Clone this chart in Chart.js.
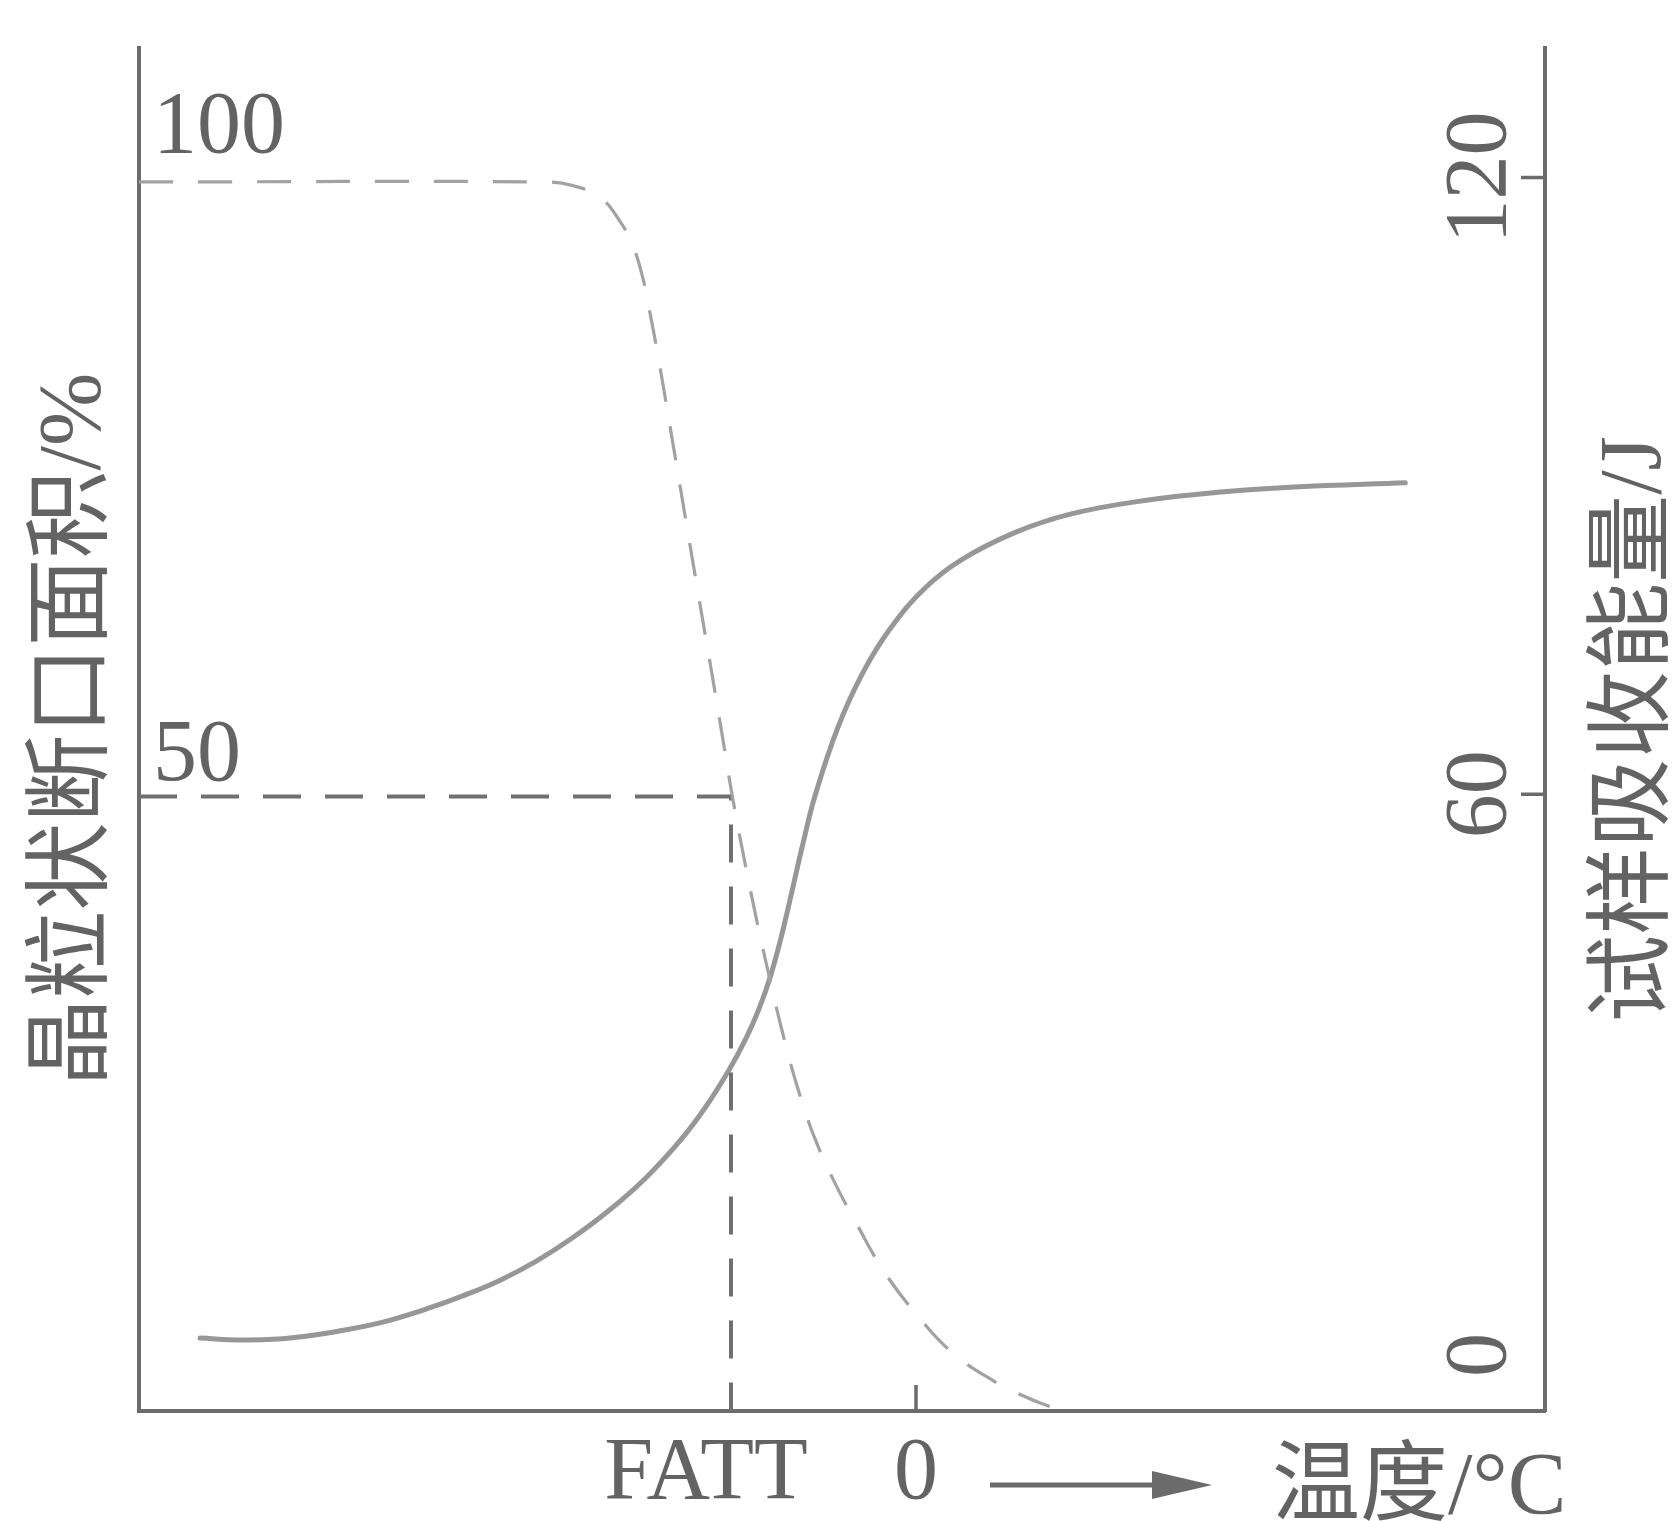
<!DOCTYPE html>
<html>
<head>
<meta charset="utf-8">
<title>FATT</title>
<script src="https://cdn.jsdelivr.net/npm/chart.js@4/dist/chart.umd.min.js"></script>
<style>
  html, body { margin: 0; padding: 0; background: #fff; }
  canvas { display: block; }
</style>
</head>
<body>
<canvas id="chart" width="1679" height="1521"></canvas>
<script>
// 晶粒状断口面积 (虚线, 左轴 %)
const fracTemp = [-84, -40.0, -37.1, -34.2, -32.0, -30.6, -29.5, -28.8, -27.9, -26.5, -25.0, -23.5, -22.0, -20.8, -19.9, -18.7, -17.3, -16.0, -14.5, -12.8, -11.0, -8.8, -6.4, -3.5, 0.0, 4.0, 8.5, 12.0, 15.0];
const fracArea = [100, 100, 99.7, 98.8, 96.8, 94.8, 92.1, 89.5, 85.9, 79.7, 73.0, 66.3, 59.7, 54.3, 50.2, 45.4, 40.2, 35.8, 31.0, 26.3, 22.3, 18.6, 15.2, 11.4, 7.9, 4.7, 2.4, 1.1, 0.2];

// 试样吸收能量 (实线, 右轴 J)
const energyTemp = [-77.4, -73.0, -69.0, -65.0, -61.0, -57.0, -53.0, -49.0, -45.0, -41.0, -37.2, -33.2, -29.3, -25.5, -22.8, -20.2, -18.3, -16.9, -15.7, -14.6, -13.5, -12.3, -10.9, -8.4, -5.7, -2.8, 0.9, 4.9, 10.8, 16.9, 24.9, 32.9, 40.9, 52.9];
const energyJ = [7.1, 6.9, 7.0, 7.4, 8.0, 8.8, 9.9, 11.2, 12.7, 14.6, 16.8, 19.5, 22.6, 26.3, 29.5, 33.2, 36.4, 39.3, 42.4, 46.0, 50.2, 54.9, 59.9, 66.6, 71.9, 76.1, 80.0, 82.8, 85.5, 87.3, 88.6, 89.4, 89.9, 90.3];

// FATT: 50% 晶粒状断口对应温度
const fattTemp = -20;
const fattArea = 50;

// 刻度
const leftTicks = [50, 100];
const rightTicks = [0, 60, 120];
const xTickValues = [fattTemp, 0];
const xTickLabels = ['FATT', '0'];

const leftTitle = '晶粒状断口面积/%';
const rightTitle = '试样吸收能量/J';
const xTitle = '温度/°C';

const axisColor = '#6b6b6b';
const textColor = '#636363';
const serif = '"Liberation Serif", "Noto Sans CJK SC", serif';

function toPoints(xs, ys) {
    return xs.map((v, i) => ({ x: v, y: ys[i] }));
}

function line(ctx, x1, y1, x2, y2) {
    ctx.beginPath();
    ctx.moveTo(x1, y1);
    ctx.lineTo(x2, y2);
    ctx.stroke();
}

// 刻度、文字和箭头
const annotate = {
    id: 'annotate',
    afterDraw(chart) {
        const { ctx, chartArea: a, scales } = chart;
        const x = scales.x, y = scales.y, y2 = scales.y2;
        ctx.save();
        ctx.strokeStyle = axisColor;
        ctx.fillStyle = textColor;
        ctx.lineWidth = 3.5;

        // 右轴内向刻度
        rightTicks.forEach(v => {
            if (v === 0) return;
            const py = y2.getPixelForValue(v);
            line(ctx, a.right - 24, py, a.right, py);
        });
        // 横轴 0 刻度
        const px0 = x.getPixelForValue(0);
        line(ctx, px0, a.bottom - 26, px0, a.bottom);

        ctx.font = '88px ' + serif;

        // 左轴标签 (轴内, 虚线之上)
        ctx.textAlign = 'left';
        ctx.textBaseline = 'alphabetic';
        leftTicks.forEach(v => {
            const py = y.getPixelForValue(v);
            ctx.fillText(String(v), a.left + 14, py - (v === 100 ? 30 : 16));
        });

        // 右轴标签 (旋转)
        rightTicks.forEach(v => {
            let py = y2.getPixelForValue(v);
            if (v === 0) py = a.bottom - 56;
            ctx.save();
            ctx.translate(a.right - 40, py);
            ctx.rotate(-Math.PI / 2);
            ctx.textAlign = 'center';
            ctx.fillText(String(v), 0, 0);
            ctx.restore();
        });

        // 横轴标签
        ctx.textAlign = 'center';
        xTickValues.forEach((v, i) => {
            let px = x.getPixelForValue(v);
            if (xTickLabels[i] === 'FATT') px -= 25;
            ctx.fillText(xTickLabels[i], px, a.bottom + 87);
        });

        // 箭头
        const ay = a.bottom + 74;
        const ax1 = px0 + 74, ax2 = px0 + 296;
        ctx.lineWidth = 5;
        line(ctx, ax1, ay, ax2 - 50, ay);
        ctx.beginPath();
        ctx.moveTo(ax2, ay);
        ctx.lineTo(ax2 - 60, ay - 14);
        ctx.lineTo(ax2 - 60, ay + 14);
        ctx.closePath();
        ctx.fillStyle = axisColor;
        ctx.fill();

        // 横轴标题
        ctx.fillStyle = textColor;
        ctx.textAlign = 'left';
        ctx.fillText(xTitle, px0 + 356, a.bottom + 102);

        // 纵轴标题
        const cy = (a.top + a.bottom) / 2;
        ctx.textAlign = 'center';
        ctx.textBaseline = 'middle';
        ctx.save();
        ctx.translate(76, cy);
        ctx.rotate(-Math.PI / 2);
        ctx.fillText(leftTitle, 0, 0);
        ctx.restore();
        ctx.save();
        ctx.translate(a.right + 92, cy);
        ctx.rotate(-Math.PI / 2);
        ctx.fillText(rightTitle, 0, 0);
        ctx.restore();

        ctx.restore();
    }
};

const hiddenAxis = {
    type: 'linear',
    grid: { display: false, drawTicks: false },
    ticks: { display: false },
    border: { display: true, color: axisColor, width: 4 }
};

new Chart(document.getElementById('chart'), {
    type: 'line',
    data: {
        datasets: [
            {
                label: '晶粒状断口面积',
                data: toPoints(fracTemp, fracArea),
                yAxisID: 'y',
                borderColor: '#a2a2a2',
                borderWidth: 3.2,
                borderDash: [34, 25],
                tension: 0.4,
                pointRadius: 0,
                fill: false
            },
            {
                label: 'FATT',
                data: [{ x: fracTemp[0], y: fattArea }, { x: fattTemp, y: fattArea }, { x: fattTemp, y: 0 }],
                yAxisID: 'y',
                borderColor: '#707070',
                borderWidth: 4,
                borderDash: [38, 24],
                tension: 0,
                pointRadius: 0,
                fill: false
            },
            {
                label: '试样吸收能量',
                data: toPoints(energyTemp, energyJ),
                yAxisID: 'y2',
                borderColor: '#979797',
                borderWidth: 5,
                borderCapStyle: 'round',
                tension: 0.4,
                pointRadius: 0,
                fill: false
            }
        ]
    },
    options: {
        responsive: false,
        animation: false,
        devicePixelRatio: 1,
        layout: { padding: { left: 139, right: 134, top: 48, bottom: 110 } },
        plugins: { legend: { display: false }, tooltip: { enabled: false } },
        scales: {
            x: Object.assign({}, hiddenAxis, { min: -84, max: 68 }),
            y: Object.assign({}, hiddenAxis, { position: 'left', min: 0, max: 110.9 }),
            y2: Object.assign({}, hiddenAxis, { position: 'right', min: 0, max: 132.6 })
        }
    },
    plugins: [annotate]
});
</script>
</body>
</html>
